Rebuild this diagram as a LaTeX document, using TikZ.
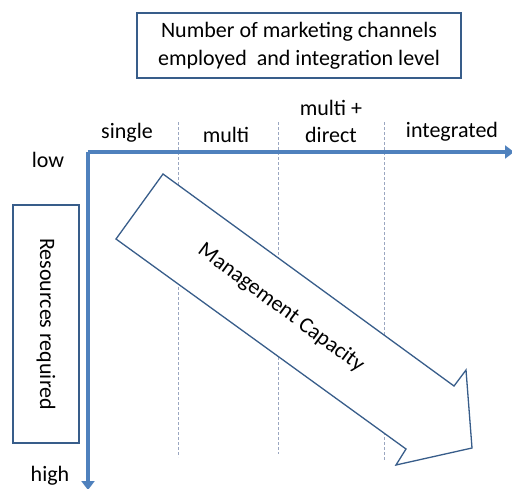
\documentclass[tikz,border=0pt]{standalone}
\usepackage{fontspec}
\setmainfont{Carlito}
\usetikzlibrary{arrows.meta,positioning}

\definecolor{axisblue}{HTML}{4F81BD}
\definecolor{boxblue}{HTML}{385D8A}
\definecolor{gridgray}{HTML}{9AA6C0}

\tikzset{
  axis/.style={line width=4.5pt,color=axisblue,-{Triangle[length=9pt,width=13pt]}},
  labelbox/.style={draw=boxblue,line width=1.2pt,align=center,font=\fontsize{22}{28}\selectfont},
  divider/.style={draw=gridgray,densely dashed,line width=0.6pt},
  lbl/.style={font=\fontsize{22}{27}\selectfont,align=center,inner sep=1pt}
}

\begin{document}
\begin{tikzpicture}[x=1pt,y=-1pt]
    \useasboundingbox (0,0) rectangle (512,488);

    % title box
    \node[labelbox,minimum width=324pt,minimum height=65pt] (title) at (299,45.5)
        {Number of marketing channels\\employed\ \ and integration level};

    % column dividers
    \coordinate (d1top) at (178,122); \coordinate (d1bot) at (178,457);
    \coordinate (d2top) at (278,122); \coordinate (d2bot) at (278,454);
    \coordinate (d3top) at (384,122); \coordinate (d3bot) at (384,460);
    \draw[divider] (d1top) -- (d1bot);
    \draw[divider] (d2top) -- (d2bot);
    \draw[divider] (d3top) -- (d3bot);

    % axes, origin top left
    \coordinate (origin) at (88,152);
    \coordinate (xend) at (514,152);
    \coordinate (yend) at (88,490);
    \draw[axis] (origin) -- (xend);
    \draw[axis] (origin) -- (yend);

    % column labels
    \node[lbl] (single) at (127,133) {single};
    \node[lbl] (multi) at (226,135) {multi};
    \node[lbl] (multidirect) at (331,121) {multi +\\direct};
    \node[lbl] (integrated) at (452,132) {integrated};

    % low / high
    \node[lbl] (low) at (48,160) {low};
    \node[lbl] (high) at (50,476) {high};

    % resources box, text reads downwards
    \node[labelbox,rotate=-90,minimum width=238pt,minimum height=66pt] (resources) at (46,324)
        {Resources required};

    % management capacity arrow
    \coordinate (tailtop) at (163,174);
    \coordinate (tailbot) at (116,239);
    \coordinate (neckup) at (454,386);
    \coordinate (barbup) at (466,370);
    \coordinate (tip) at (472,448);
    \coordinate (barbdown) at (396,465);
    \coordinate (neckdown) at (406,449);
    \draw[boxblue,line width=1.3pt,line join=miter,fill=white]
        (tailtop) -- (neckup) -- (barbup) -- (tip) -- (barbdown) -- (neckdown) -- (tailbot) -- cycle;
    \node[lbl,rotate=-36.5] (capacity) at (281,308) {Management Capacity};
\end{tikzpicture}
\end{document}
